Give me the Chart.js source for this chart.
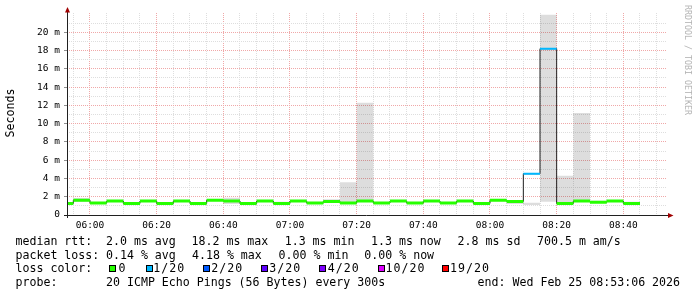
<!DOCTYPE html>
<html><head><meta charset="utf-8">
<script src="https://cdn.jsdelivr.net/npm/chart.js@4.4.1/dist/chart.umd.min.js"></script>
<style>
html,body{margin:0;padding:0;background:#fff;}
#wrap{position:relative;width:697px;height:297px;overflow:hidden;background:#fff;}
#c{position:absolute;left:0;top:0;}
.t{position:absolute;font-family:"DejaVu Sans Mono",monospace;font-size:11.6px;line-height:14px;white-space:pre;color:#000;}
.t.ll{letter-spacing:1px;}
.box{position:absolute;width:5px;height:5px;border:1px solid #000;}
.rot{position:absolute;font-family:"DejaVu Sans Mono",monospace;white-space:pre;text-align:center;}
</style></head><body>
<div id="wrap">
<canvas id="c" width="697" height="297"></canvas>
<div class="rot" id="ylab" style="left:-30px;top:106px;width:80px;font-size:11.6px;line-height:14px;color:#000;transform:rotate(-90deg);">Seconds</div>
<div class="rot" id="wm" style="left:627.5px;top:54px;width:120px;font-size:8.3px;line-height:12px;color:#b4b4b4;transform:rotate(90deg);">RRDTOOL / TOBI OETIKER</div>
<div id="legend"></div>
</div>
<script>
// ---- data ----
const intervalStarts = ['05:50','05:55','06:00','06:05','06:10','06:15','06:20','06:25','06:30','06:35',
  '06:40','06:45','06:50','06:55','07:00','07:05','07:10','07:15','07:20','07:25',
  '07:30','07:35','07:40','07:45','07:50','07:55','08:00','08:05','08:10','08:15',
  '08:20','08:25','08:30','08:35','08:40'];
const medianRtt = [1.27,1.62,1.31,1.53,1.27,1.53,1.27,1.53,1.27,1.62,
  1.53,1.27,1.53,1.27,1.53,1.31,1.49,1.31,1.53,1.31,
  1.53,1.31,1.53,1.31,1.53,1.27,1.62,1.49,4.52,18.2,
  1.27,1.53,1.40,1.53,1.27];
const lossCount = [0,0,0,0,0,0,0,0,0,0,
  0,0,0,0,0,0,0,0,0,0,
  0,0,0,0,0,0,0,0,1,1,
  0,0,0,0,0];
const smokeLow = [1.27,1.45,1.31,1.53,1.27,1.53,1.27,1.53,1.27,1.60,
  1.20,1.27,1.53,1.27,1.53,1.31,1.49,1.31,1.53,1.31,
  1.53,1.31,1.53,1.31,1.53,1.27,1.62,1.20,1.10,1.46,
  1.27,1.53,1.30,1.53,1.27];
const smokeHigh = [1.27,1.86,1.31,1.53,1.27,1.53,1.27,1.53,1.27,1.62,
  1.90,1.27,1.53,1.45,1.53,1.31,1.71,3.57,12.27,1.31,
  1.53,1.31,1.53,1.31,1.53,1.27,1.62,1.60,1.35,21.9,
  4.30,11.17,1.57,1.53,1.45];
const xTickLabels = ['06:00','06:20','06:40','07:00','07:20','07:40','08:00','08:20','08:40'];
const yTickLabels = ['0','2 m','4 m','6 m','8 m','10 m','12 m','14 m','16 m','18 m','20 m'];
const lossLegend = ['0','1/20','2/20','3/20','4/20','10/20','19/20'];
const viewStart = '05:53:06';
const viewEnd = '08:53:06';

// ---- helpers ----
const toMin = s => { const p = s.split(':').map(Number); return p[0]*60 + p[1] + (p[2]||0)/60; };
const STEP = 5;
const xs = intervalStarts.map(toMin);
const endX = xs[xs.length-1] + STEP;
const stepPts = arr => xs.map((x,i)=>({x, y: arr[i]})).concat([{x:endX, y: arr[arr.length-1]}]);
const lossColors = {'0':'#26ff00','1/20':'#00b8ff','2/20':'#0059ff','3/20':'#5e00ff','4/20':'#7e00ff','10/20':'#dd00ff','19/20':'#ff0000'};
const lossThresh = lossLegend.map(l => l==='0'?0:Number(l.split('/')[0]));
const lossClass = n => { let k = 0; lossThresh.forEach((t,i)=>{ if(n>=t) k=i; }); return lossLegend[k]; };

const segDatasets = [];
[...new Set(lossCount.map(lossClass))].forEach(cls => {
  const pts = [];
  xs.forEach((x,i)=>{ if(lossClass(lossCount[i])===cls){ pts.push({x,y:medianRtt[i]},{x:x+STEP,y:medianRtt[i]},{x:x+STEP,y:null}); }});
  segDatasets.push({data: pts, borderColor: lossColors[cls], borderWidth: cls==='0'?3:2,
    pointRadius:0, spanGaps:false, fill:false, borderCapStyle:'butt', order:0});
});

const majorX = xTickLabels.map(toMin);
const xMin = toMin(viewStart), xMax = toMin(viewEnd);
const minorX = []; for (let v = Math.ceil(xMin/STEP)*STEP; v <= xMax; v += STEP) if (!majorX.includes(v)) minorX.push(v);
const majorY = yTickLabels.map(l => parseFloat(l));
const yTop = 22.1;
const minorY = []; for (let v = 1; v <= yTop; v += 2) minorY.push(v);

const MAJ = 'rgb(240,168,168)', MIN = 'rgb(222,222,222)';

const axesPlugin = {
  id:'rrdAxes',
  afterDatasetsDraw(chart){
    const {ctx, chartArea:a} = chart;
    ctx.save();
    ctx.strokeStyle='#202020'; ctx.lineWidth=1;
    ctx.beginPath();
    ctx.moveTo(a.left-3, a.bottom+0.5); ctx.lineTo(a.right+2, a.bottom+0.5);
    ctx.moveTo(a.left+0.5, a.bottom+3); ctx.lineTo(a.left+0.5, a.top-2);
    ctx.stroke();
    ctx.fillStyle='#a00000';
    ctx.beginPath(); ctx.moveTo(a.right+1, a.bottom-2); ctx.lineTo(a.right+6.5, a.bottom+0.5); ctx.lineTo(a.right+1, a.bottom+3); ctx.closePath(); ctx.fill();
    ctx.beginPath(); ctx.moveTo(a.left-2, a.top-0.5); ctx.lineTo(a.left+0.5, a.top-6); ctx.lineTo(a.left+3, a.top-0.5); ctx.closePath(); ctx.fill();
    ctx.restore();
  }
};

const monoFont = {family:'"DejaVu Sans Mono", monospace', size: 9.5};

new Chart(document.getElementById('c'), {
  type:'line',
  data:{ datasets:[
    ...segDatasets,
    {data: stepPts(medianRtt), borderColor:'#202020', borderWidth:1, stepped:true, pointRadius:0, fill:false, order:1},
    {data: stepPts(smokeLow), borderWidth:0, borderColor:'rgba(0,0,0,0)', stepped:true, pointRadius:0, fill:false, order:3},
    {data: stepPts(smokeHigh), borderWidth:0, borderColor:'rgba(0,0,0,0)', backgroundColor:'rgba(0,0,0,0.135)', stepped:true, pointRadius:0, fill:'-1', order:2}
  ]},
  options:{
    responsive:false, animation:false, devicePixelRatio:1,
    layout:{padding:{left:0, right:30, top:13, bottom:62}},
    plugins:{legend:{display:false}, tooltip:{enabled:false}},
    scales:{
      xMinor:{ type:'linear', position:'bottom', min:xMin, max:xMax, weight:1,
        afterBuildTicks: s => { s.ticks = minorX.map(v=>({value:v})); },
        afterFit: s => { s.height = 0; },
        grid:{ drawTicks:false, color: MIN, lineWidth:1 },
        border:{ display:false, dash:[1,1] },
        ticks:{ display:false, autoSkip:false }
      },
      x:{ type:'linear', position:'bottom', min:xMin, max:xMax, weight:0,
        afterBuildTicks: s => { s.ticks = majorX.map(v=>({value:v})); },
        afterFit: s => { s.height = 20; },
        grid:{ drawTicks:false, color: MAJ, lineWidth:1 },
        border:{ display:false, dash:[1,1] },
        ticks:{ autoSkip:false, maxRotation:0, minRotation:0, padding:5, color:'#000', font:monoFont,
          callback: (v, i) => xTickLabels[i] }
      },
      yMinor:{ type:'linear', position:'left', min:0, max:yTop, weight:1,
        afterBuildTicks: s => { s.ticks = minorY.map(v=>({value:v})); },
        afterFit: s => { s.width = 0; },
        grid:{ drawTicks:false, color: MIN, lineWidth:1 },
        border:{ display:false, dash:[1,1] },
        ticks:{ display:false, autoSkip:false }
      },
      y:{ type:'linear', position:'left', min:0, max:yTop, weight:0,
        afterBuildTicks: s => { s.ticks = majorY.map(v=>({value:v})); },
        afterFit: s => { s.width = 67; },
        grid:{ drawTicks:true, tickLength:3, lineWidth:1, color: MAJ, tickColor:'#909090' },
        border:{ display:false, dash:[1,1] },
        ticks:{ autoSkip:false, padding:4, color:'#000', font:monoFont,
          callback: (v, i) => yTickLabels[i] }
      }
    }
  },
  plugins:[axesPlugin]
});

// ---- legend (real text) ----
const legend = document.getElementById('legend');
const addText = (txt, x, y, cls) => { const d = document.createElement('div'); d.className='t' + (cls ? ' '+cls : ''); d.style.left=x+'px'; d.style.top=y+'px'; d.textContent=txt; legend.appendChild(d); };
const L1 = 233.5, L2 = 248, L3 = 261, L4 = 275;
addText('median rtt:', 15.5, L1);
addText('2.0 ms avg', 106, L1);
addText('18.2 ms max', 191.5, L1);
addText('1.3 ms min', 284.7, L1);
addText('1.3 ms now', 371, L1);
addText('2.8 ms sd', 457.6, L1);
addText('700.5 m am/s', 537, L1);
addText('packet loss:', 15.5, L2);
addText('0.14 % avg', 106, L2);
addText('4.18 % max', 192, L2);
addText('0.00 % min', 278.6, L2);
addText('0.00 % now', 364.3, L2);
addText('loss color:', 15.5, L3);
const boxX = [108.7,145.7,203,261,319.3,377.7,442.3];
const lblX = [118.6,153.3,211.3,269.3,327.7,385.6,450];
lossLegend.forEach((l,i)=>{
  const b = document.createElement('div'); b.className='box';
  b.style.left = boxX[i]+'px'; b.style.top='265px'; b.style.background = lossColors[l];
  legend.appendChild(b);
  addText(l, lblX[i], L3, 'll');
});
addText('probe:', 15.5, L4);
addText('20 ICMP Echo Pings (56 Bytes) every 300s', 106, L4);
addText('end: Wed Feb 25 08:53:06 2026', 477.6, L4);
</script>
</body></html>
